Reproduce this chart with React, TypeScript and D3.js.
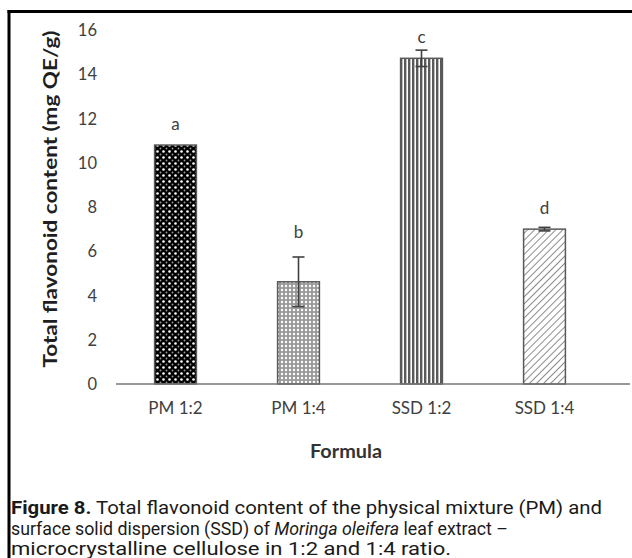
import React from "react";
import * as d3 from "d3";

const categories = ["PM 1:2", "PM 1:4", "SSD 1:2", "SSD 1:4"];
const values = [10.8, 4.62, 14.72, 7.0];
const errors = [0, 1.12, 0.37, 0.08];
const letters = ["a", "b", "c", "d"];
const letterAt = [11.5, 6.6, 15.4, 7.7];
const yTicks = [0, 2, 4, 6, 8, 10, 12, 14, 16];
const patterns = ["pCheck", "pDots", "pVert", "pDiag"];
const captionLines = [
  { bold: "Figure 8.", rest: " Total flavonoid content of the physical mixture (PM) and" },
  { pre: "surface solid dispersion (SSD) of ", ital: "Moringa oleifera", post: " leaf extract –" },
  { pre: "microcrystalline cellulose in 1:2 and 1:4 ratio." },
];

export default function App() {
  const W = 632, H = 558;
  const y = d3.scaleLinear().domain([0, 16]).range([384, 30]);
  const x = d3.scaleBand<string>().domain(categories).range([114, 606]).paddingInner(0.66).paddingOuter(0.33);
  const font = "Lato, 'Open Sans', sans-serif";
  const cap = "Roboto, 'Noto Sans', sans-serif";
  return (
    <svg width={W} height={H} style={{ position: "absolute", left: 0, top: 0 }}>
      <defs>
        <pattern id="pCheck" width="6" height="6" patternUnits="userSpaceOnUse">
          <rect width="6" height="6" fill="#000" />
          <circle cx="1.5" cy="1.5" r="1.3" fill="#fff" />
          <circle cx="4.5" cy="4.5" r="0.9" fill="#999" />
        </pattern>
        <pattern id="pDots" width="4" height="4" patternUnits="userSpaceOnUse">
          <rect width="4" height="4" fill="#9a9a9a" />
          <circle cx="2" cy="2" r="1.2" fill="#fff" />
        </pattern>
        <pattern id="pVert" width="4" height="4" patternUnits="userSpaceOnUse">
          <rect width="4" height="4" fill="#fff" />
          <rect x="0" width="2.4" height="4" fill="#5a5a5a" />
        </pattern>
        <pattern id="pDiag" width="5" height="5" patternUnits="userSpaceOnUse" patternTransform="rotate(45)">
          <rect width="5" height="5" fill="#fff" />
          <rect x="0" width="1" height="5" fill="#8c8c8c" />
        </pattern>
      </defs>
      <rect width={W} height={H} fill="#fff" />
      <line x1={9} x2={9} y1={10} y2={H} stroke="#000" strokeWidth={3} />
      <line x1={7.5} x2={W} y1={11.5} y2={11.5} stroke="#000" strokeWidth={3} />

      {yTicks.map((t) => (
        <text key={t} x={97} y={y(t) + 6} textAnchor="end" fontFamily={font} fontSize={16.5} fill="#404040">{t}</text>
      ))}

      {categories.map((c, i) => {
        const bx = x(c)!;
        const bw = x.bandwidth();
        const cx = bx + bw / 2;
        return (
          <g key={c}>
            <rect x={bx} y={y(values[i])} width={bw} height={y(0) - y(values[i])} fill={`url(#${patterns[i]})`} stroke="#595959" strokeWidth={1.5} />
            {errors[i] > 0 && (
              <g stroke="#404040" strokeWidth={1.6}>
                <line x1={cx} x2={cx} y1={y(values[i] + errors[i])} y2={y(values[i] - errors[i])} />
                <line x1={cx - 6} x2={cx + 6} y1={y(values[i] + errors[i])} y2={y(values[i] + errors[i])} />
                <line x1={cx - 6} x2={cx + 6} y1={y(values[i] - errors[i])} y2={y(values[i] - errors[i])} />
              </g>
            )}
            <text x={cx} y={y(letterAt[i])} textAnchor="middle" fontFamily={font} fontSize={17} fill="#404040">{letters[i]}</text>
            <text x={cx} y={414} textAnchor="middle" fontFamily={font} fontSize={17} fill="#404040">{c}</text>
          </g>
        );
      })}
      <line x1={116} x2={630} y1={y(0)} y2={y(0)} stroke="#767676" strokeWidth={1.6} />

      <text transform={`translate(57,199) rotate(-90)`} textAnchor="middle" fontFamily={font} fontSize={18.5} fontWeight="bold" fill="#1f1f1f" textLength={337} lengthAdjust="spacingAndGlyphs">Total flavonoid content (mg QE/g)</text>
      <text x={346} y={458} textAnchor="middle" fontFamily={font} fontSize={18} fontWeight="bold" fill="#333" textLength={72} lengthAdjust="spacingAndGlyphs">Formula</text>

      <text x={11} y={514} fontFamily={cap} fontSize={18} fill="#1a1a1a" textLength={591} lengthAdjust="spacingAndGlyphs">
        <tspan fontWeight="bold">{captionLines[0].bold}</tspan>{captionLines[0].rest}
      </text>
      <text x={11} y={535} fontFamily={cap} fontSize={18} fill="#1a1a1a" textLength={497} lengthAdjust="spacingAndGlyphs">
        {captionLines[1].pre}<tspan fontStyle="italic">{captionLines[1].ital}</tspan>{captionLines[1].post}
      </text>
      <text x={11} y={555} fontFamily={cap} fontSize={18} fill="#1a1a1a" textLength={440} lengthAdjust="spacingAndGlyphs">
        {captionLines[2].pre}
      </text>
    </svg>
  );
}
